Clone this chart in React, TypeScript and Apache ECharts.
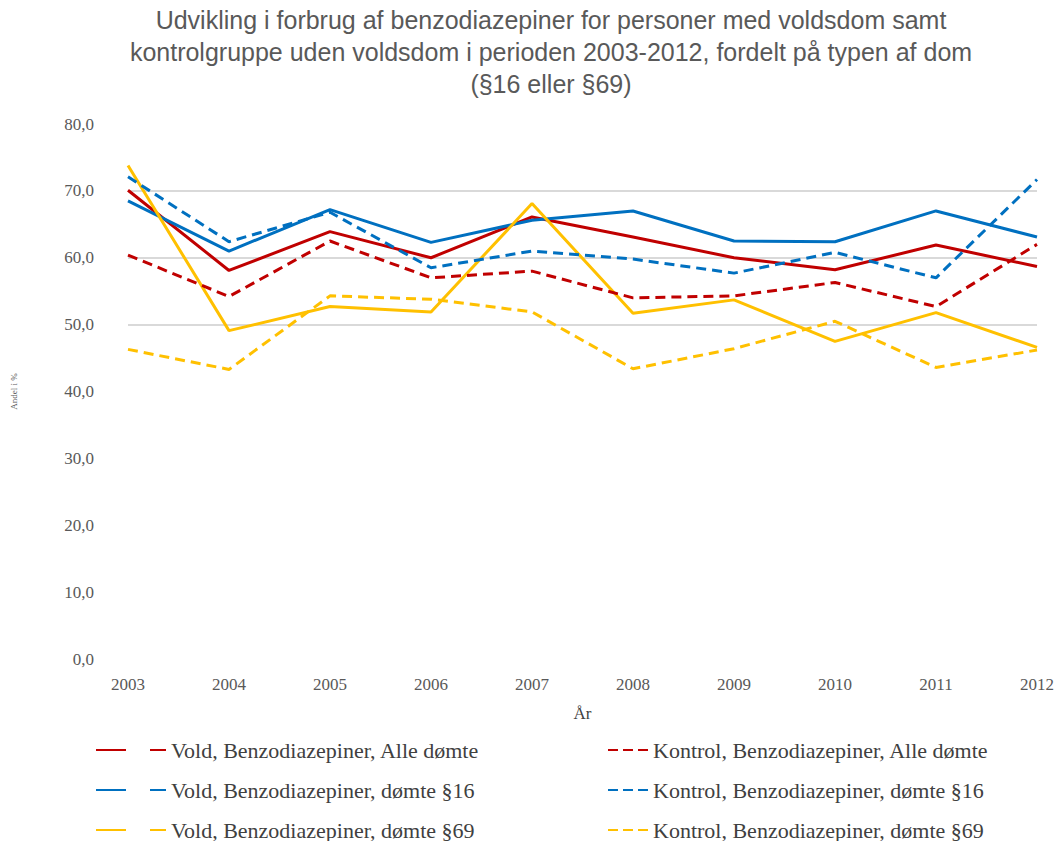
import React, { useEffect, useRef } from "react";
import * as echarts from "echarts";

const years = ["2003", "2004", "2005", "2006", "2007", "2008", "2009", "2010", "2011", "2012"];

const voldAlle = [70.1, 58.1, 63.9, 60.0, 66.1, 63.1, 60.0, 58.2, 61.9, 58.7];
const kontrolAlle = [60.4, 54.2, 62.5, 57.0, 58.0, 54.0, 54.3, 56.3, 52.7, 62.0];
const vold16 = [68.5, 61.0, 67.2, 62.3, 65.6, 67.0, 62.5, 62.4, 67.0, 63.1];
const kontrol16 = [72.1, 62.4, 66.8, 58.5, 61.0, 59.8, 57.7, 60.8, 57.0, 71.7];
const vold69 = [73.8, 49.1, 52.7, 51.9, 68.1, 51.7, 53.7, 47.5, 51.8, 46.6];
const kontrol69 = [46.3, 43.3, 54.3, 53.8, 51.9, 43.4, 46.4, 50.5, 43.6, 46.2];

const seriesNames = [
  "Vold, Benzodiazepiner, Alle dømte",
  "Vold, Benzodiazepiner, dømte §16",
  "Vold, Benzodiazepiner, dømte §69",
  "Kontrol, Benzodiazepiner, Alle dømte",
  "Kontrol, Benzodiazepiner, dømte §16",
  "Kontrol, Benzodiazepiner, dømte §69",
];

const RED = "#C00000";
const BLUE = "#0070C0";
const YELLOW = "#FFC000";

const titleText =
  "Udvikling i forbrug af benzodiazepiner for personer med voldsdom samt\nkontrolgruppe uden voldsdom i perioden 2003-2012, fordelt på typen af dom\n(§16 eller §69)";

// grid lines shown only at 50, 60 and 70
const gridColors = [
  "transparent", "transparent", "transparent", "transparent", "transparent",
  "#d9d9d9", "#d9d9d9", "#d9d9d9", "transparent",
];

const solidIcon = "path://M0,0H30V2H0Z M54,0H70V2H54Z";
const dashIcon = "path://M0,0H10V2H0Z M15,0H25V2H15Z M30,0H40V2H30Z";

function lineSeries(name: string, data: number[], color: string, dashed: boolean) {
  return {
    name,
    type: "line",
    data,
    symbol: "none",
    lineStyle: { color, width: 3, type: dashed ? [10, 6] : "solid" },
    itemStyle: { color },
  };
}

export default function App() {
  const ref = useRef<HTMLDivElement>(null);

  useEffect(() => {
    if (!ref.current) return;
    const chart = echarts.init(ref.current, null, { renderer: "svg" });
    const legendText = {
      fontFamily: "Liberation Serif",
      fontSize: 22,
      color: "#404040",
      lineHeight: 22,
    };
    const axisFont = { fontFamily: "Liberation Serif", fontSize: 17, color: "#595959" };
    chart.setOption({
      animation: false,
      backgroundColor: "#ffffff",
      title: {
        text: titleText,
        left: 546,
        textAlign: "center",
        top: -1,
        textStyle: {
          fontFamily: "Liberation Sans",
          fontSize: 25,
          fontWeight: "normal",
          color: "#595959",
          lineHeight: 32,
        },
      },
      grid: { left: 128, right: 17, top: 124, bottom: 182 },
      xAxis: {
        type: "category",
        data: years,
        boundaryGap: false,
        name: "År",
        nameLocation: "middle",
        nameGap: 46,
        nameTextStyle: { fontFamily: "Liberation Serif", fontSize: 17, color: "#404040" },
        axisLine: { show: false },
        axisTick: { show: false },
        axisLabel: { ...axisFont, margin: 17 },
      },
      yAxis: {
        type: "value",
        min: 0,
        max: 80,
        interval: 10,
        name: "Andel i %",
        nameLocation: "middle",
        nameGap: 110,
        nameTextStyle: { fontFamily: "Liberation Serif", fontSize: 9, color: "#595959" },
        axisLine: { show: false },
        axisTick: { show: false },
        axisLabel: {
          ...axisFont,
          margin: 34,
          formatter: (v: number) => v.toFixed(1).replace(".", ","),
        },
        splitLine: { show: true, lineStyle: { color: gridColors, width: 2 } },
      },
      legend: [
        {
          orient: "vertical",
          left: 91,
          top: 734,
          height: 110,
          itemGap: 18,
          itemWidth: 70,
          itemHeight: 2.5,
          icon: solidIcon,
          data: seriesNames.slice(0, 3),
          textStyle: legendText,
        },
        {
          orient: "vertical",
          left: 603,
          top: 734,
          height: 110,
          itemGap: 18,
          itemWidth: 40,
          itemHeight: 2.5,
          icon: dashIcon,
          data: seriesNames.slice(3),
          textStyle: legendText,
        },
      ],
      series: [
        lineSeries(seriesNames[0], voldAlle, RED, false),
        lineSeries(seriesNames[1], vold16, BLUE, false),
        lineSeries(seriesNames[2], vold69, YELLOW, false),
        lineSeries(seriesNames[3], kontrolAlle, RED, true),
        lineSeries(seriesNames[4], kontrol16, BLUE, true),
        lineSeries(seriesNames[5], kontrol69, YELLOW, true),
      ],
    });
    return () => chart.dispose();
  }, []);

  return (
    <div
      ref={ref}
      style={{ position: "absolute", left: 0, top: 0, width: 1057, height: 841 }}
    />
  );
}
